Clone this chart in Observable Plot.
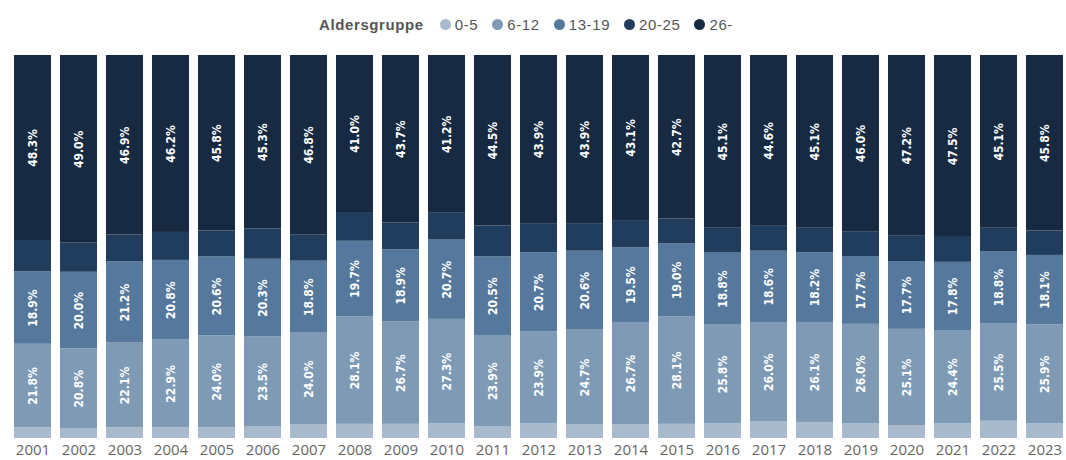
<!DOCTYPE html>
<html><head><meta charset="utf-8">
<script src="https://cdn.jsdelivr.net/npm/d3@7"></script>
<script src="https://cdn.jsdelivr.net/npm/@observablehq/plot@0.6"></script>
<style>
html,body{margin:0;padding:0;background:#fff;}
body{width:1066px;height:460px;overflow:hidden;}
#legend{height:45px;box-sizing:border-box;padding-top:3px;display:flex;justify-content:center;align-items:center;font-family:"Liberation Sans",Arial,sans-serif;font-size:15px;letter-spacing:0.6px;color:#555;}
#legend .title{font-weight:bold;margin-right:16px;}
#legend .item{display:flex;align-items:center;margin-right:14px;}
#legend .dot{width:11px;height:11px;border-radius:50%;margin-right:4px;}
#chart svg{display:block;}
</style></head>
<body>
<div id="legend"></div>
<div id="chart"></div>
<script>
const years = ["2001","2002","2003","2004","2005","2006","2007","2008","2009","2010","2011","2012","2013","2014","2015","2016","2017","2018","2019","2020","2021","2022","2023"];
const groups = ["0-5","6-12","13-19","20-25","26-"];
const colors = ["#a9bacc","#7f9ab5","#56789c","#213d5e","#182a41"];
const g0_5   = [2.8,2.6,2.8,2.8,2.8,3.0,3.5,3.7,3.7,3.8,3.0,3.9,3.6,3.6,3.7,3.8,4.3,4.2,3.8,3.4,3.8,4.5,3.8];
const g6_12  = [21.8,20.8,22.1,22.9,24.0,23.5,24.0,28.1,26.7,27.3,23.9,23.9,24.7,26.7,28.1,25.8,26.0,26.1,26.0,25.1,24.4,25.5,25.9];
const g13_19 = [18.9,20.0,21.2,20.8,20.6,20.3,18.8,19.7,18.9,20.7,20.5,20.7,20.6,19.5,19.0,18.8,18.6,18.2,17.7,17.7,17.8,18.8,18.1];
const g20_25 = [8.2,7.6,7.0,7.3,6.8,7.9,6.9,7.5,7.0,7.0,8.1,7.6,7.2,7.1,6.5,6.5,6.5,6.4,6.5,6.6,6.5,6.1,6.4];
const g26    = [48.3,49.0,46.9,46.2,45.8,45.3,46.8,41.0,43.7,41.2,44.5,43.9,43.9,43.1,42.7,45.1,44.6,45.1,46.0,47.2,47.5,45.1,45.8];
const labeledGroups = ["6-12","13-19","26-"];

const series = [g0_5, g6_12, g13_19, g20_25, g26];
const data = [];
years.forEach((y, i) => {
  groups.forEach((g, j) => data.push({year: y, group: g, value: series[j][i]}));
});

// legend
const legend = document.getElementById("legend");
const t = document.createElement("span"); t.className = "title"; t.textContent = "Aldersgruppe"; legend.appendChild(t);
groups.forEach((g, j) => {
  const it = document.createElement("span"); it.className = "item";
  const d = document.createElement("span"); d.className = "dot"; d.style.background = colors[j];
  const s = document.createElement("span"); s.textContent = g;
  it.appendChild(d); it.appendChild(s); legend.appendChild(it);
});

const plot = Plot.plot({
  width: 1066,
  height: 415,
  marginTop: 10,
  marginBottom: 22,
  marginLeft: 12,
  marginRight: 2,
  x: {domain: years, paddingInner: 0.2, paddingOuter: 0, label: null},
  y: {domain: [0, 100], axis: null},
  color: {domain: groups, range: colors},
  marks: [
    Plot.barY(data, {x: "year", y: "value", z: "group", fill: "group", order: groups}),
    Plot.text(data, Plot.stackY({
      x: "year", y: "value", z: "group", order: groups,
      text: d => labeledGroups.includes(d.group) ? d.value.toFixed(1) + "%" : "",
      rotate: -90, fill: "white",
      fontFamily: "DejaVu Sans Condensed", fontSize: 12, fontWeight: "bold"
    })),
    Plot.axisX({tickSize: 0, tickPadding: 6, fontSize: 15, fontFamily: "Open Sans", fill: "#666", label: null})
  ]
});
document.getElementById("chart").appendChild(plot);
</script>
</body></html>
